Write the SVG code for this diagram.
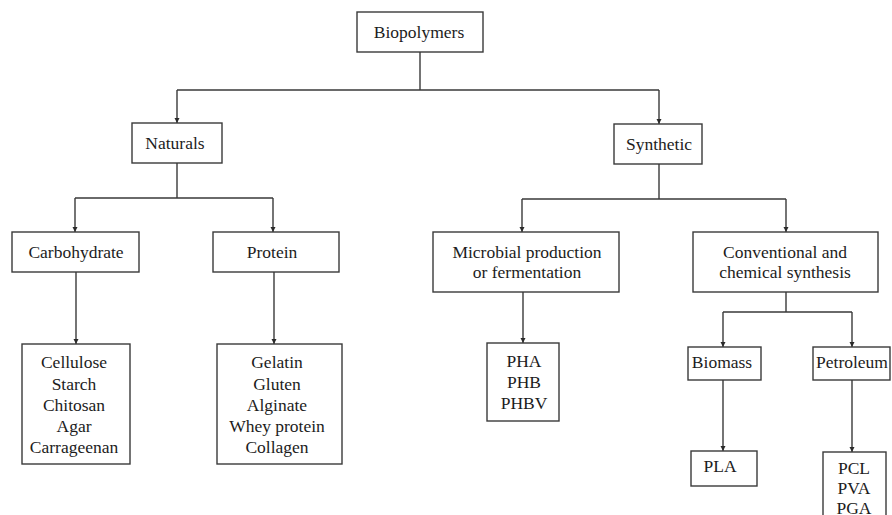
<svg xmlns="http://www.w3.org/2000/svg" width="892" height="515" viewBox="0 0 892 515" font-family="Liberation Serif, Times New Roman, Tinos, Times, DejaVu Serif, Noto Serif, serif">
  <defs>
    <marker id="arrow" viewBox="0 0 10 10" refX="10" refY="5" markerWidth="5" markerHeight="6" markerUnits="userSpaceOnUse" orient="auto">
      <path d="M0,0 L10,5 L0,10 Z" fill="#2a2a2a"/>
    </marker>
    <style>
      .box { fill: #ffffff; stroke: #3a3a3a; stroke-width: 1.4; }
      .lbl { font-size: 17.5px; fill: #1c1c1c; text-anchor: middle; }
      .wire { fill: none; stroke: #3a3a3a; stroke-width: 1.4; }
      .arr { fill: none; stroke: #3a3a3a; stroke-width: 1.4; marker-end: url(#arrow); }
    </style>
  </defs>
  <rect width="892" height="515" fill="#ffffff"/>

  <!-- connectors -->
  <g id="connectors">
    <path class="wire" d="M420,52 V90 M177,90 H659"/>
    <path class="arr" d="M177,90 V123"/>
    <path class="arr" d="M659,90 V124"/>

    <path class="wire" d="M177,163 V198 M75,198 H273"/>
    <path class="arr" d="M75,198 V232"/>
    <path class="arr" d="M273,198 V232"/>

    <path class="wire" d="M659,164 V199 M522,199 H786"/>
    <path class="arr" d="M522,199 V232"/>
    <path class="arr" d="M786,199 V232"/>

    <path class="arr" d="M76,272 V344"/>
    <path class="arr" d="M274,272 V344"/>
    <path class="arr" d="M523,292 V343"/>

    <path class="wire" d="M786,292 V312 M723,312 H852"/>
    <path class="arr" d="M723,312 V347"/>
    <path class="arr" d="M852,312 V347"/>

    <path class="arr" d="M723,380 V451"/>
    <path class="arr" d="M852,380 V452"/>
  </g>

  <g id="biopolymers">
    <rect class="box" x="357" y="12" width="126" height="40"/>
    <text class="lbl" x="419" y="38">Biopolymers</text>
  </g>

  <g id="naturals">
    <rect class="box" x="132" y="123" width="90" height="40"/>
    <text class="lbl" x="175" y="149">Naturals</text>
  </g>

  <g id="synthetic">
    <rect class="box" x="614" y="124" width="88" height="40"/>
    <text class="lbl" x="659" y="150">Synthetic</text>
  </g>

  <g id="carbohydrate">
    <rect class="box" x="12" y="232" width="127" height="40"/>
    <text class="lbl" x="76" y="258">Carbohydrate</text>
  </g>

  <g id="protein">
    <rect class="box" x="213" y="232" width="126" height="40"/>
    <text class="lbl" x="272" y="258">Protein</text>
  </g>

  <g id="microbial">
    <rect class="box" x="433" y="232" width="186" height="60"/>
    <text class="lbl" x="527" y="258">Microbial production</text>
    <text class="lbl" x="527" y="278">or fermentation</text>
  </g>

  <g id="conventional">
    <rect class="box" x="693" y="232" width="185" height="60"/>
    <text class="lbl" x="785" y="258">Conventional and</text>
    <text class="lbl" x="785" y="278">chemical synthesis</text>
  </g>

  <g id="carbohydrate-list">
    <rect class="box" x="22" y="344" width="108" height="120"/>
    <text class="lbl" x="74" y="368">Cellulose</text>
    <text class="lbl" x="74" y="390">Starch</text>
    <text class="lbl" x="74" y="411">Chitosan</text>
    <text class="lbl" x="74" y="432">Agar</text>
    <text class="lbl" x="74" y="453">Carrageenan</text>
  </g>

  <g id="protein-list">
    <rect class="box" x="217" y="344" width="125" height="120"/>
    <text class="lbl" x="277" y="368">Gelatin</text>
    <text class="lbl" x="277" y="390">Gluten</text>
    <text class="lbl" x="277" y="411">Alginate</text>
    <text class="lbl" x="277" y="432">Whey protein</text>
    <text class="lbl" x="277" y="453">Collagen</text>
  </g>

  <g id="microbial-list">
    <rect class="box" x="487" y="343" width="72" height="78"/>
    <text class="lbl" x="524" y="367">PHA</text>
    <text class="lbl" x="524" y="388">PHB</text>
    <text class="lbl" x="524" y="409">PHBV</text>
  </g>

  <g id="biomass">
    <rect class="box" x="688" y="347" width="73" height="33"/>
    <text class="lbl" x="722" y="368">Biomass</text>
  </g>

  <g id="petroleum">
    <rect class="box" x="813" y="347" width="77" height="33"/>
    <text class="lbl" x="852" y="368">Petroleum</text>
  </g>

  <g id="pla">
    <rect class="box" x="691" y="451" width="66" height="35"/>
    <text class="lbl" x="720" y="472">PLA</text>
  </g>

  <g id="petroleum-list">
    <rect class="box" x="823" y="452" width="63" height="80"/>
    <text class="lbl" x="854" y="474">PCL</text>
    <text class="lbl" x="854" y="494">PVA</text>
    <text class="lbl" x="854" y="514">PGA</text>
  </g>
</svg>
